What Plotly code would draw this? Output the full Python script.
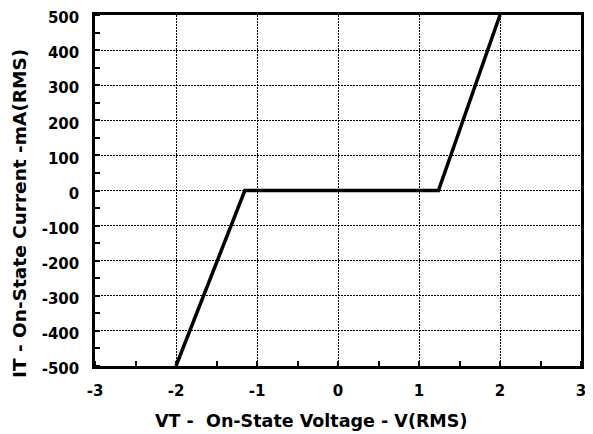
import plotly.graph_objects as go

# Data
voltage = [-2.0, -1.15, 1.24, 2.0]
current = [-500, 0, 0, 500]

x_ticks = [-3, -2, -1, 0, 1, 2, 3]
y_ticks = [-500, -400, -300, -200, -100, 0, 100, 200, 300, 400, 500]

x_title = "VT -  On-State Voltage - V(RMS)"
y_title = "IT - On-State Current -mA(RMS)"

FONT = "DejaVu Sans, Liberation Sans, Arial, sans-serif"

# page body has an 8px margin offset
OFF = 8
W, H = 593, 434
ML, MT = 95 - OFF, 15 - OFF
PR, PB = 581 - OFF, 366 - OFF
MR, MB = W - PR, H - PB
PW, PH = PR - ML, PB - MT


def px(xp):
    return (xp - OFF - ML) / PW


def py(yp):
    return (PB - (yp - OFF)) / PH


fig = go.Figure()
fig.add_trace(go.Scatter(
    x=voltage, y=current, mode="lines",
    line=dict(color="black", width=3.5),
    cliponaxis=False, showlegend=False, hoverinfo="skip",
))

axis_common = dict(
    showline=True, mirror=True, linecolor="black", linewidth=2.5,
    showgrid=True, gridcolor="#000000", gridwidth=1.2, griddash="2px,1px",
    zeroline=False, automargin=False, ticklabeloverflow="allow",
    tickfont=dict(family=FONT, size=15, color="black", weight="bold"),
)

fig.update_layout(
    width=W, height=H,
    margin=dict(l=ML, r=MR, t=MT, b=MB),
    paper_bgcolor="white", plot_bgcolor="white",
    font=dict(family=FONT, color="black"),
    xaxis=dict(
        range=[-3, 3], tickmode="array", tickvals=x_ticks,
        ticktext=[str(v) for v in x_ticks],
        ticks="outside", ticklen=9, tickcolor="rgba(0,0,0,0)",
        minor=dict(dtick=0.5, ticks="inside", ticklen=5, tickwidth=2,
                   tickcolor="black", showgrid=False),
        **axis_common,
    ),
    yaxis=dict(
        range=[-500, 500], tickmode="array", tickvals=y_ticks,
        ticktext=[str(v) for v in y_ticks],
        ticks="outside", ticklen=10, tickcolor="rgba(0,0,0,0)",
        ticklabelshift=3,
        minor=dict(dtick=50, ticks="inside", ticklen=5, tickwidth=2,
                   tickcolor="black", showgrid=False),
        **axis_common,
    ),
    annotations=[
        dict(
            text=y_title, textangle=-90, showarrow=False,
            xref="paper", yref="paper",
            x=px(19), y=py(214),
            xanchor="center", yanchor="middle",
            font=dict(family=FONT, size=18.5, color="black", weight="bold"),
        ),
        dict(
            text=x_title, showarrow=False,
            xref="paper", yref="paper",
            x=px(311), y=py(421),
            xanchor="center", yanchor="middle",
            font=dict(family=FONT, size=17.5, color="black", weight="bold"),
        ),
    ],
)

fig.write_html("out.html")
